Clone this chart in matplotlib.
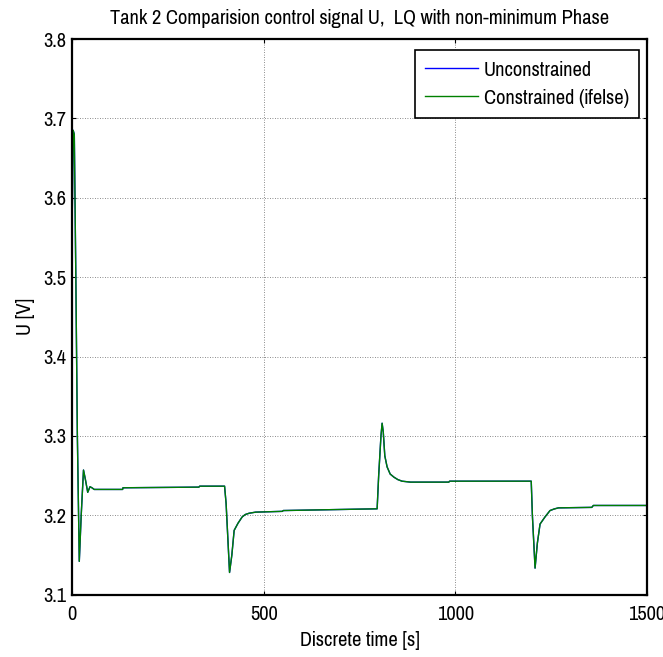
import matplotlib
matplotlib.use("Agg")
import matplotlib.pyplot as plt

plt.rcParams['font.family'] = ['Liberation Sans Narrow', 'Arial Narrow', 'Pragati Narrow',
                               'Archivo Narrow', 'PT Sans Narrow', 'Roboto Condensed',
                               'Liberation Sans', 'DejaVu Sans']

# time stamps (s) and control signal values (V)
t_unc = [0, 3, 6, 10, 14, 19, 24, 30, 35, 41, 47, 52, 58, 132, 133, 331, 333, 398,
         402, 411, 417, 423, 433, 444, 452, 462, 479, 549, 551, 796, 800, 806, 809, 812,
         816, 822, 830, 840, 850, 861, 883, 983, 985, 1198, 1201, 1208, 1214, 1221, 1234,
         1247, 1258, 1269, 1356, 1360, 1500]
u_unc = [3.55, 3.685, 3.68, 3.50, 3.30, 3.142, 3.20, 3.257, 3.245, 3.229, 3.236, 3.2347,
         3.2326, 3.2326, 3.2347, 3.2355, 3.2367, 3.2367,
         3.215, 3.128, 3.15, 3.181, 3.19, 3.198, 3.201, 3.2026, 3.204, 3.205, 3.206,
         3.2082, 3.25, 3.30, 3.316, 3.305, 3.275, 3.261, 3.252, 3.248, 3.245, 3.243,
         3.2418, 3.2418, 3.243, 3.243, 3.20, 3.1335, 3.165, 3.189, 3.198, 3.206, 3.208,
         3.2094, 3.210, 3.2124, 3.2124]

t_con = list(t_unc)
u_con = list(u_unc)

labels = ['Unconstrained', 'Constrained (ifelse)']
title = 'Tank 2 Comparision control signal U,  LQ with non-minimum Phase'
xlabel = 'Discrete time [s]'
ylabel = 'U [V]'
xticks = [0, 500, 1000, 1500]
yticks = [3.1, 3.2, 3.3, 3.4, 3.5, 3.6, 3.7, 3.8]

FS = 16
W, H = 663, 657
L, R, T, B = 72, 647, 39, 594.7
fig = plt.figure(figsize=(W / 100, H / 100), dpi=100)
ax = fig.add_axes([L / W, 1 - B / H, (R - L) / W, (B - T) / H])

ax.plot(t_unc, u_unc, color='#0000ff', lw=1.0, label=labels[0])
ax.plot(t_con, u_con, color='#008000', lw=1.0, label=labels[1])

ax.set_xlim(0, 1500)
ax.set_ylim(3.1, 3.8)
ax.set_xticks(xticks)
ax.set_yticks(yticks)
ax.set_xticklabels([str(x) for x in xticks])
ax.set_yticklabels(['%.1f' % y for y in yticks])
ax.tick_params(direction='in', top=True, right=True, labelsize=FS, length=3, width=0.8)
ax.tick_params(axis='x', pad=7.5)
ax.tick_params(axis='y', pad=4)
ax.grid(True, linestyle=(0, (1, 2)), color='#666666', linewidth=0.6)
for s in ax.spines.values():
    s.set_linewidth(1.6)

ax.set_xlabel(xlabel, fontsize=FS, labelpad=5)
ax.set_ylabel(ylabel, fontsize=FS, labelpad=6)
ax.set_title(title, fontsize=FS, pad=11)

ax_w, ax_h = R - L, B - T
leg = ax.legend(loc='upper right', bbox_to_anchor=((639 - L) / ax_w, 1 - (50 - T) / ax_h),
                fontsize=FS, fancybox=False, framealpha=1, edgecolor='black',
                borderaxespad=0, handlelength=2.4, handletextpad=0.25,
                borderpad=0.45, labelspacing=0.4)
leg.get_frame().set_linewidth(1.2)

fig.savefig('out.png', dpi=100)
